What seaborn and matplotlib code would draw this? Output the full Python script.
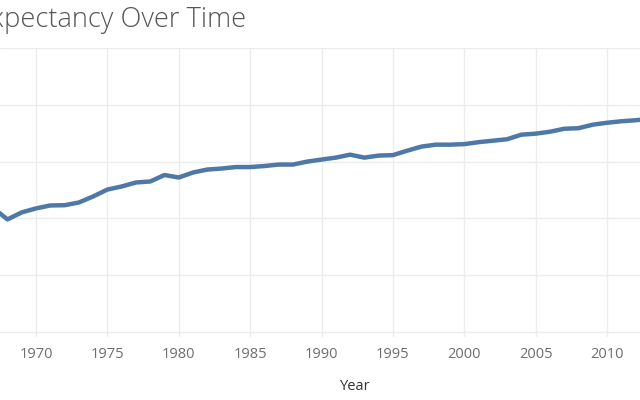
import matplotlib
matplotlib.use("Agg")
import matplotlib.pyplot as plt
import seaborn as sns
import pandas as pd

years = list(range(1967, 2014))
life_expectancy = [60.92, 59.91, 60.53, 60.88, 61.14, 61.16, 61.40, 61.93, 62.54, 62.81,
                   63.16, 63.25, 63.82, 63.60, 64.04, 64.30, 64.39, 64.52, 64.52, 64.61,
                   64.74, 64.74, 65.00, 65.18, 65.35, 65.61, 65.35, 65.53, 65.57, 65.96,
                   66.32, 66.49, 66.49, 66.54, 66.71, 66.84, 66.97, 67.37, 67.46, 67.63,
                   67.89, 67.94, 68.25, 68.42, 68.55, 68.64, 68.77]
tick_years = [1970, 1975, 1980, 1985, 1990, 1995, 2000, 2005, 2010]
y_grid = [50, 55, 60, 65, 70, 75]
title = "Life Expectancy Over Time"
x_label = "Year"

df = pd.DataFrame({"Year": years, "Life Expectancy": life_expectancy})

sns.set_style("white")
plt.rcParams['font.family'] = ['Open Sans', 'DejaVu Sans']

fig = plt.figure(figsize=(6.4, 4.0), dpi=100)
ax = fig.add_axes([0.0, (400 - 337) / 400, 1.0, (337 - 48) / 400])

sns.lineplot(data=df, x="Year", y="Life Expectancy", ax=ax, color="#4e79a7",
             linewidth=3.2, solid_joinstyle="round", solid_capstyle="round")

ax.set_xlim(1967.478, 2012.31)
ax.set_ylim(49.56, 75.0)
ax.set_xticks(tick_years)
ax.set_xticklabels([str(y) for y in tick_years])
ax.set_yticks(y_grid)
ax.set_yticklabels([])
ax.tick_params(axis="x", length=0, pad=7, labelsize=10.5, labelcolor="#6e6e6e")
ax.tick_params(axis="y", length=0)
ax.grid(True, color="#ececec", linewidth=1.0)
ax.set_axisbelow(True)
for s in ax.spines.values():
    s.set_visible(False)
ax.set_xlabel("")
ax.set_ylabel("")

fig.text(355 / 640, 1 - 386 / 400, x_label, ha="center", va="center",
         fontsize=10.5, color="#333333")
fig.text(246 / 640, 1 - 20 / 400, title, ha="right", va="center",
         fontsize=19.6, color="#555555", fontweight="light")

fig.savefig("out.png", dpi=100)
